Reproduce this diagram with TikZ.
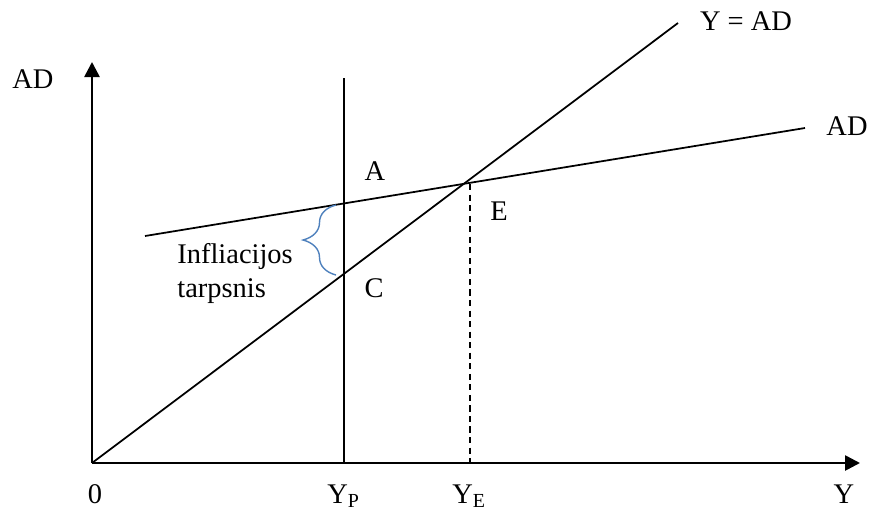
\documentclass[tikz,border=0pt]{standalone}
\usepackage{fontspec}
\setmainfont{Liberation Serif}
\usetikzlibrary{arrows.meta, decorations.pathreplacing}
\definecolor{braceblue}{RGB}{79, 129, 189}

\begin{document}
\begin{tikzpicture}[x=0.02cm, y=-0.02cm, font=\fontsize{16.2}{19}\selectfont,
        axis/.style={line width=1.5pt, -{Triangle[length=0.3cm, width=0.3cm]}},
        curve/.style={line width=1pt},
        lbl/.style={inner sep=0pt, anchor=base}]
        \useasboundingbox (0,0) rectangle (871,511);
        % axes
        \coordinate (O) at (92,463);
        \coordinate (yend) at (92,62);
        \coordinate (xend) at (860,463);
        \draw[axis] (O) -- (yend);
        \draw[axis] (O) -- (xend);
        % lines
        \coordinate (g1) at (678,23);
        \coordinate (ad0) at (145,236);
        \coordinate (ad1) at (805,128);
        \coordinate (P0) at (344,78);
        \coordinate (P1) at (344,463);
        \coordinate (Eup) at (470,184);
        \coordinate (Elow) at (470,463);
        \draw[curve] (O) -- (g1);
        \draw[curve] (ad0) -- (ad1);
        \draw[curve] (P0) -- (P1);
        \draw[curve, dash pattern=on 3.5pt off 2.5pt] (Eup) -- (Elow);
        % gap brace
        \coordinate (b0) at (336,275);
        \coordinate (b1) at (336,205);
        \draw[braceblue, line width=0.8pt, decorate, decoration={brace, amplitude=0.66cm}] (b0) -- (b1);
        % labels
        \node[lbl] (adaxis) at (33,88)  {AD};
        \node[lbl] (yad)    at (746,30) {Y = AD};
        \node[lbl] (adline) at (847,135) {AD};
        \node[lbl] (ptA)    at (375,180) {A};
        \node[lbl] (ptE)    at (499,220) {E};
        \node[lbl] (ptC)    at (374,297) {C};
        \node[lbl, anchor=base west, align=left] (gap) at (177,297) {Infliacijos\\tarpsnis};
        \node[lbl] (zero)   at (95,503)  {0};
        \node[lbl, anchor=base west] (yp) at (327,503) {Y\textsubscript{P}};
        \node[lbl, anchor=base west] (ye) at (452,503) {Y\textsubscript{E}};
        \node[lbl] (yaxis)  at (844,503) {Y};
    \end{tikzpicture}
\end{document}
